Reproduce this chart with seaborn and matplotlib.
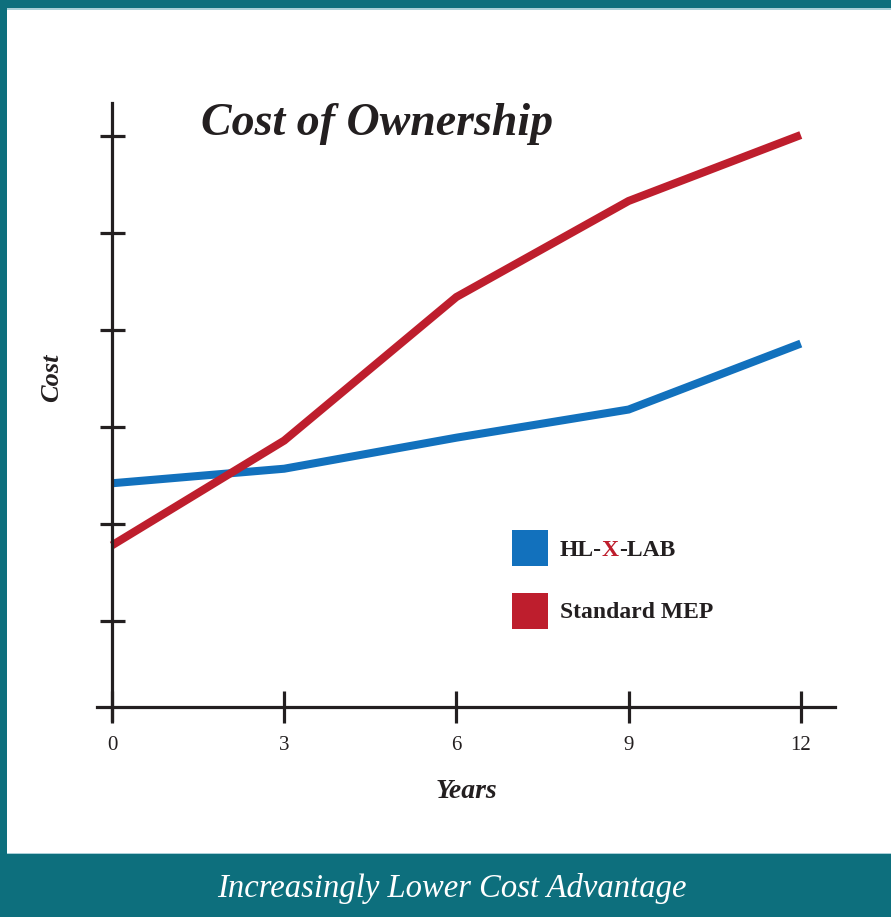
import pandas as pd
import seaborn as sns
import matplotlib.pyplot as plt
from matplotlib.patches import Rectangle, Patch

# Valores (unidades de coste arbitrarias, marcas del eje en 1..6)
years = [0, 3, 6, 9, 12]
hlxlab_cost = [2.42, 2.57, 2.89, 3.18, 3.86]
mep_cost = [1.78, 2.86, 4.34, 5.33, 6.01]
series_names = ["HL-X-LAB", "Standard MEP"]
y_ticks = [1, 2, 3, 4, 5, 6]
y_origin = 0.113  # donde cruza el eje de los anos

blue = "#1271BD"
red = "#BE1E2D"
teal = "#0D6F7D"
ink = "#231F20"

df = pd.DataFrame({
    "Years": years * 2,
    "Cost": hlxlab_cost + mep_cost,
    "Serie": [series_names[0]] * len(years) + [series_names[1]] * len(years),
})

sns.set_style("white")
plt.rcParams["font.family"] = ["Liberation Serif", "DejaVu Serif"]

W, H = 891, 917
fig = plt.figure(figsize=(W / 100, H / 100), dpi=100)

# marco azul verdoso
fig.patches.append(Rectangle((0, 1 - 8 / H), 1, 8 / H, transform=fig.transFigure,
                             facecolor=teal, edgecolor="none", zorder=0))
fig.patches.append(Rectangle((0, 1 - 10 / H), 1, 2 / H, transform=fig.transFigure,
                             facecolor="#A9CFD8", edgecolor="none", zorder=0))
fig.patches.append(Rectangle((0, 0), 7 / W, 1, transform=fig.transFigure,
                             facecolor=teal, edgecolor="none", zorder=0))
fig.patches.append(Rectangle((0, 0), 1, 63 / H, transform=fig.transFigure,
                             facecolor=teal, edgecolor="none", zorder=0))
fig.patches.append(Rectangle((7 / W, 63 / H), 1, 1.5 / H, transform=fig.transFigure,
                             facecolor="#A9CFD8", edgecolor="none", zorder=0))
fig.text(452 / W, 1 - 888 / H, "Increasingly Lower Cost Advantage", color="white",
         fontsize=23.5, style="italic", ha="center", va="center")

ax = fig.add_axes([97 / W, 1 - 722 / H, (835 - 97) / W, (722 - 100) / H])
ax.patch.set_alpha(0)

sns.lineplot(data=df, x="Years", y="Cost", hue="Serie",
             palette={series_names[0]: blue, series_names[1]: red},
             linewidth=5.8, ax=ax, legend=False)
for ln in ax.lines:
    ln.set_solid_capstyle("butt")
    ln.set_solid_joinstyle("miter")

ax.set_xlim(-0.261, 12.596)
ax.set_ylim(-0.041, 6.371)

for side in ["top", "right"]:
    ax.spines[side].set_visible(False)
ax.spines["left"].set_position(("data", 0))
ax.spines["bottom"].set_position(("data", y_origin))
ax.spines["left"].set_bounds(-0.021, 6.34)
for side in ["left", "bottom"]:
    ax.spines[side].set_color(ink)
    ax.spines[side].set_linewidth(2.3)

ax.set_xticks(years)
ax.set_xticklabels([str(y) for y in years])
ax.set_yticks(y_ticks)
ax.set_yticklabels([])
ax.tick_params(axis="x", bottom=True, direction="inout", length=23, width=2.3, color=ink,
               labelsize=15, labelcolor=ink, pad=9)
ax.tick_params(axis="y", left=True, direction="inout", length=18, width=2.3, color=ink)
ax.set_xlabel("")
ax.set_ylabel("")

fig.text(52 / W, 1 - 378 / H, "Cost", rotation=90, fontsize=19, fontweight="bold",
         style="italic", color=ink, ha="center", va="center")
fig.text(466 / W, 1 - 791 / H, "Years", fontsize=20, fontweight="bold",
         style="italic", color=ink, ha="center", va="center")
fig.text(377 / W, 1 - 124 / H, "Cost of Ownership", fontsize=33, fontweight="bold",
         style="italic", color=ink, ha="center", va="center")

# leyenda con cuadrados
fs = 17
handles = [Patch(facecolor=blue, edgecolor="none"), Patch(facecolor=red, edgecolor="none")]
leg = ax.legend(handles, series_names, loc="upper left",
                bbox_to_anchor=(512 / W, 1 - 530 / H), bbox_transform=fig.transFigure,
                frameon=False, borderpad=0, borderaxespad=0,
                prop={"size": fs, "weight": "bold"},
                handlelength=1.525, handleheight=1.97, labelspacing=1.14, handletextpad=0.51)
# "X" en rojo dentro de HL-X-LAB
first = leg.get_texts()[0]
first.set_alpha(0)
t1 = ax.annotate("HL-", xy=(0, 0), xycoords=first, va="bottom", ha="left",
                 fontsize=fs, fontweight="bold", color=ink, zorder=6)
t2 = ax.annotate("X", xy=(1, 0), xycoords=t1, va="bottom", ha="left",
                 fontsize=fs, fontweight="bold", color=red, zorder=7)
ax.annotate("-LAB", xy=(1, 0), xycoords=t2, va="bottom", ha="left",
            fontsize=fs, fontweight="bold", color=ink, zorder=8)
for t in leg.get_texts()[1:]:
    t.set_color(ink)

fig.savefig("out.png", dpi=100)
